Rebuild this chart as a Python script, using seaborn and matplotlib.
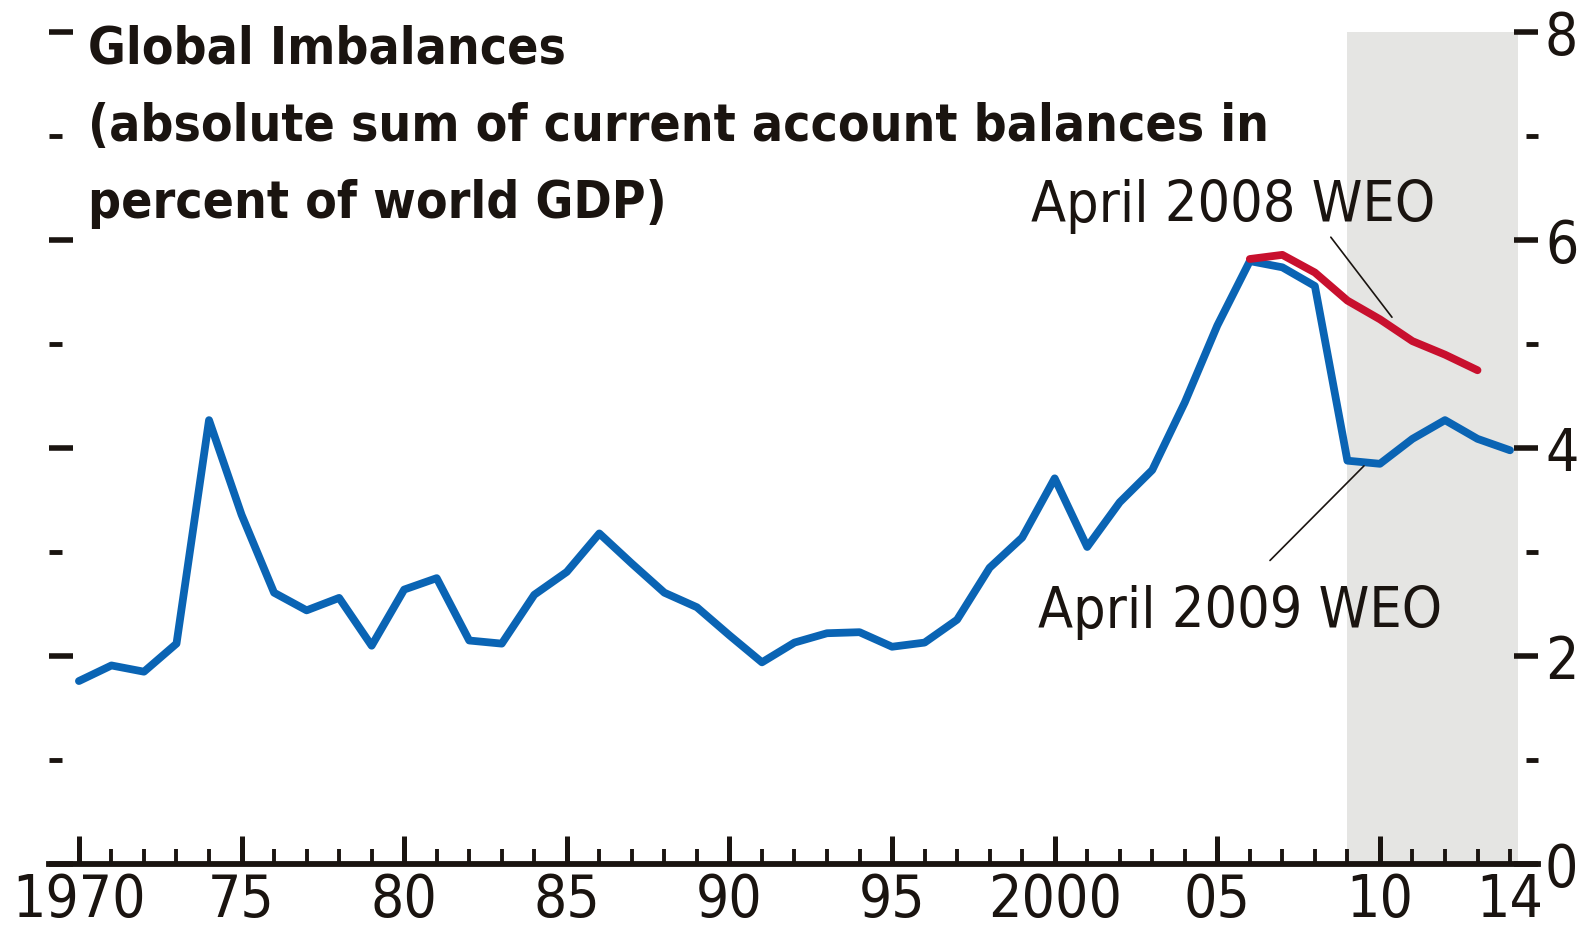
import matplotlib
matplotlib.use('Agg')
import matplotlib.pyplot as plt
from matplotlib import font_manager
from matplotlib.ticker import FixedLocator, FixedFormatter
import seaborn as sns

# Data
years = list(range(1970, 2015))
weo_2009 = [1.76, 1.91, 1.85, 2.12, 4.27, 3.36, 2.61, 2.44, 2.56, 2.10,
            2.64, 2.75, 2.15, 2.12, 2.59, 2.81, 3.18, 2.89, 2.61, 2.47,
            2.20, 1.94, 2.13, 2.22, 2.23, 2.09, 2.13, 2.35, 2.85, 3.14,
            3.71, 3.05, 3.48, 3.79, 4.44, 5.18, 5.80, 5.74, 5.56, 3.88,
            3.85, 4.09, 4.27, 4.09, 3.98]
years_2008 = list(range(2006, 2014))
weo_2008 = [5.82, 5.86, 5.69, 5.42, 5.24, 5.03, 4.90, 4.75]

major_years = [1970, 1975, 1980, 1985, 1990, 1995, 2000, 2005, 2010]
major_labels = ['1970', '75', '80', '85', '90', '95', '2000', '05', '10']
minor_years = [y for y in years if y % 5 != 0]
minor_labels = ['14' if y == 2014 else '' for y in minor_years]

title_lines = ['Global Imbalances',
               '(absolute sum of current account balances in',
               'percent of world GDP)']

sns.set_style('white')
names = {f.name for f in font_manager.fontManager.ttflist}
if 'Liberation Sans Narrow' in names:
    plt.rcParams['font.family'] = ['Liberation Sans Narrow', 'DejaVu Sans']
else:
    plt.rcParams['font.family'] = ['DejaVu Sans']
    plt.rcParams['font.stretch'] = 'condensed'

blue = '#0A64B4'
red = '#C8102E'
ink = '#1A1410'

fig = plt.figure(figsize=(15.89, 9.35), dpi=100)
ax = fig.add_axes([49 / 1589, 1 - 864 / 935, (1538 - 49) / 1589, (864 - 32.4) / 935])

# projection period shading
ax.axvspan(2009.0, 2014.25, ymin=0, ymax=1, color='#E5E5E3', lw=0, zorder=0)

sns.lineplot(x=years, y=weo_2009, color=blue, lw=5.6, ax=ax, zorder=3)
sns.lineplot(x=years_2008, y=weo_2008, color=red, lw=5.6, ax=ax, zorder=4)

ax.set_xlim(1969.08, 2014.86)
ax.set_ylim(0, 8)
ax.set(xlabel='', ylabel='')

for side in ['left', 'right', 'top']:
    ax.spines[side].set_visible(False)
ax.spines['bottom'].set_linewidth(4.2)
ax.spines['bottom'].set_color(ink)
ax.spines['bottom'].set_zorder(5)

ax.xaxis.set_major_locator(FixedLocator(major_years))
ax.xaxis.set_major_formatter(FixedFormatter(major_labels))
ax.xaxis.set_minor_locator(FixedLocator(minor_years))
ax.xaxis.set_minor_formatter(FixedFormatter(minor_labels))
ax.tick_params(axis='x', which='both', direction='in', bottom=True, top=False,
               colors=ink, labelsize=42, pad=6)
ax.tick_params(axis='x', which='major', length=20, width=3.6)
ax.tick_params(axis='x', which='minor', length=11, width=2.8)

ax.yaxis.set_major_locator(FixedLocator([0, 2, 4, 6, 8]))
ax.yaxis.set_minor_locator(FixedLocator([1, 3, 5, 7]))
ax.tick_params(axis='y', which='both', direction='in', left=True, right=True,
               labelleft=False, labelright=True, colors=ink, labelsize=42, pad=5)
ax.tick_params(axis='y', which='major', length=17, width=4)
ax.tick_params(axis='y', which='minor', length=9, width=3.5)

# title block, one text per line
for line, y in zip(title_lines, [7.70, 6.96, 6.21]):
    ax.text(1970.28, y, line, fontsize=37, fontweight='bold', color=ink,
            va='baseline', ha='left', zorder=6)

ax.text(1999.26, 6.18, 'April 2008 WEO', fontsize=41, color=ink, va='baseline', ha='left')
ax.text(1999.5, 2.27, 'April 2009 WEO', fontsize=41, color=ink, va='baseline', ha='left')
ax.annotate('', xy=(2010.37, 5.26), xytext=(2008.49, 6.03),
            arrowprops=dict(arrowstyle='-', lw=1.2, color=ink, shrinkA=0, shrinkB=0))
ax.annotate('', xy=(2009.51, 3.83), xytext=(2006.62, 2.92),
            arrowprops=dict(arrowstyle='-', lw=1.2, color=ink, shrinkA=0, shrinkB=0))

fig.savefig('out.png', dpi=100)
